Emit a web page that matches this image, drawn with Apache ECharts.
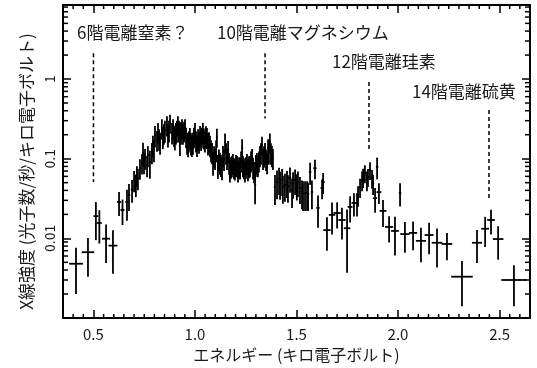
<!DOCTYPE html>
<html>
<head>
<meta charset="utf-8">
<script src="https://cdn.jsdelivr.net/npm/echarts@6/dist/echarts.min.js"></script>
<style>
  html, body { margin: 0; padding: 0; background: #fff; }
  #chart { width: 537px; height: 368px; }
</style>
</head>
<body>
<div id="chart"></div>
<script>
// X-ray spectrum: channel energy (keV), half bin width (keV), flux and 1-sigma error
const energy = [
  0.414, 0.473, 0.512, 0.529, 0.562, 0.596, 0.626, 0.643, 0.665, 0.675,
  0.690, 0.700, 0.709, 0.714, 0.719, 0.729, 0.739, 0.744, 0.749, 0.754,
  0.764, 0.768, 0.778, 0.788, 0.793, 0.798, 0.803, 0.813, 0.818, 0.823,
  0.828, 0.837, 0.842, 0.847, 0.852, 0.862, 0.867, 0.872, 0.877, 0.887,
  0.892, 0.897, 0.901, 0.906, 0.911, 0.916, 0.921, 0.926, 0.931, 0.936,
  0.941, 0.946, 0.951, 0.956, 0.961, 0.966, 0.970, 0.975, 0.980, 0.985,
  0.990, 0.995, 1.000, 1.005, 1.010, 1.015, 1.020, 1.025, 1.030, 1.034,
  1.039, 1.044, 1.049, 1.054, 1.059, 1.064, 1.069, 1.074, 1.079, 1.084,
  1.089, 1.094, 1.099, 1.104, 1.108, 1.113, 1.118, 1.123, 1.128, 1.133,
  1.138, 1.143, 1.148, 1.153, 1.158, 1.163, 1.168, 1.172, 1.177, 1.182,
  1.187, 1.192, 1.197, 1.202, 1.207, 1.212, 1.217, 1.222, 1.227, 1.232,
  1.236, 1.241, 1.246, 1.251, 1.256, 1.261, 1.266, 1.271, 1.276, 1.281,
  1.286, 1.291, 1.296, 1.300, 1.305, 1.310, 1.315, 1.320, 1.325, 1.330,
  1.335, 1.340, 1.345, 1.350, 1.355, 1.360, 1.364, 1.369, 1.374, 1.379,
  1.384, 1.394, 1.404, 1.414, 1.419, 1.429, 1.433, 1.443, 1.453, 1.458,
  1.468, 1.478, 1.483, 1.493, 1.502, 1.507, 1.517, 1.527, 1.532, 1.542,
  1.552, 1.557, 1.567, 1.576, 1.591, 1.606, 1.626, 1.631, 1.650, 1.675,
  1.700, 1.724, 1.749, 1.764, 1.783, 1.798, 1.803, 1.813, 1.823, 1.828,
  1.837, 1.847, 1.852, 1.862, 1.872, 1.877, 1.887, 1.897, 1.906, 1.926,
  1.956, 1.985, 2.010, 2.034, 2.074, 2.113, 2.153, 2.192, 2.241, 2.315,
  2.389, 2.429, 2.458, 2.493, 2.571
];
const energyHalfWidth = [
  0.034, 0.031, 0.012, 0.012, 0.020, 0.022, 0.010, 0.010, 0.008, 0.006,
  0.006, 0.005, 0.005, 0.005, 0.005, 0.005, 0.005, 0.005, 0.005, 0.005,
  0.005, 0.005, 0.005, 0.005, 0.005, 0.005, 0.005, 0.005, 0.005, 0.005,
  0.005, 0.005, 0.005, 0.005, 0.005, 0.005, 0.005, 0.005, 0.005, 0.005,
  0.005, 0.005, 0.005, 0.005, 0.005, 0.005, 0.005, 0.005, 0.005, 0.005,
  0.005, 0.005, 0.005, 0.005, 0.005, 0.005, 0.005, 0.005, 0.005, 0.005,
  0.005, 0.005, 0.005, 0.005, 0.005, 0.005, 0.005, 0.005, 0.005, 0.005,
  0.005, 0.005, 0.005, 0.005, 0.005, 0.005, 0.005, 0.005, 0.005, 0.005,
  0.005, 0.005, 0.005, 0.005, 0.005, 0.005, 0.005, 0.005, 0.005, 0.005,
  0.005, 0.005, 0.005, 0.005, 0.005, 0.005, 0.005, 0.005, 0.005, 0.005,
  0.005, 0.005, 0.005, 0.005, 0.005, 0.005, 0.005, 0.005, 0.005, 0.005,
  0.005, 0.005, 0.005, 0.005, 0.005, 0.005, 0.005, 0.005, 0.005, 0.005,
  0.005, 0.005, 0.005, 0.005, 0.005, 0.005, 0.005, 0.005, 0.005, 0.005,
  0.005, 0.005, 0.005, 0.005, 0.005, 0.005, 0.005, 0.005, 0.005, 0.005,
  0.005, 0.006, 0.006, 0.006, 0.006, 0.006, 0.006, 0.006, 0.006, 0.006,
  0.006, 0.006, 0.006, 0.006, 0.006, 0.006, 0.006, 0.006, 0.006, 0.006,
  0.006, 0.006, 0.006, 0.006, 0.008, 0.008, 0.008, 0.008, 0.018, 0.016,
  0.018, 0.018, 0.016, 0.012, 0.012, 0.008, 0.006, 0.006, 0.006, 0.006,
  0.006, 0.006, 0.006, 0.006, 0.006, 0.006, 0.010, 0.006, 0.012, 0.017,
  0.020, 0.019, 0.006, 0.023, 0.020, 0.025, 0.022, 0.026, 0.026, 0.053,
  0.025, 0.019, 0.019, 0.026, 0.062
];
const flux = [
  0.0048, 0.0067, 0.019, 0.0156, 0.0099, 0.0081, 0.0286, 0.0227, 0.0286, 0.035,
  0.041, 0.054, 0.048, 0.0625, 0.0573, 0.0764, 0.0883, 0.118, 0.090, 0.102,
  0.0834, 0.111, 0.091, 0.121, 0.149, 0.130, 0.198, 0.172, 0.216, 0.180,
  0.162, 0.243, 0.187, 0.210, 0.229, 0.265, 0.198, 0.230, 0.281, 0.216,
  0.243, 0.200, 0.182, 0.215, 0.229, 0.265, 0.230, 0.198, 0.215, 0.243,
  0.210, 0.225, 0.243, 0.190, 0.162, 0.149, 0.170, 0.187, 0.160, 0.150,
  0.162, 0.190, 0.216, 0.170, 0.150, 0.180, 0.165, 0.198, 0.175, 0.190,
  0.216, 0.185, 0.170, 0.195, 0.187, 0.160, 0.165, 0.149, 0.130, 0.121,
  0.091, 0.110, 0.102, 0.130, 0.187, 0.0834, 0.100, 0.091, 0.085, 0.0787,
  0.111, 0.100, 0.162, 0.120, 0.102, 0.129, 0.090, 0.0722, 0.080, 0.0834,
  0.0883, 0.078, 0.0764, 0.085, 0.0834, 0.0722, 0.080, 0.0787, 0.095, 0.136,
  0.0834, 0.078, 0.0722, 0.080, 0.0883, 0.075, 0.082, 0.0834, 0.095, 0.102,
  0.0787, 0.070, 0.0468, 0.085, 0.091, 0.0834, 0.095, 0.111, 0.120, 0.149,
  0.102, 0.110, 0.121, 0.100, 0.091, 0.136, 0.120, 0.162, 0.120, 0.111,
  0.102, 0.0442, 0.051, 0.056, 0.0496, 0.0541, 0.0442, 0.0468, 0.051, 0.045,
  0.0573, 0.040, 0.0496, 0.054, 0.0468, 0.051, 0.0429, 0.0382, 0.0371, 0.0371,
  0.0371, 0.036, 0.068, 0.0382, 0.076, 0.0241, 0.0429, 0.051, 0.0127, 0.0197,
  0.0208, 0.0170, 0.0134, 0.0248, 0.0278, 0.0278, 0.035, 0.044, 0.054, 0.059,
  0.066, 0.054, 0.059, 0.072, 0.057, 0.049, 0.032, 0.079, 0.038, 0.0221,
  0.0139, 0.0124, 0.0371, 0.0113, 0.0117, 0.0093, 0.0110, 0.0088, 0.0085, 0.0033,
  0.0088, 0.0132, 0.0170, 0.0098, 0.0030
];
const fluxErr = [
  0.0028, 0.0034, 0.0095, 0.007, 0.005, 0.0045, 0.0095, 0.008, 0.012, 0.013,
  0.013, 0.016, 0.015, 0.018, 0.017, 0.022, 0.025, 0.040, 0.026, 0.030,
  0.025, 0.033, 0.035, 0.036, 0.045, 0.040, 0.060, 0.050, 0.065, 0.055,
  0.050, 0.070, 0.055, 0.060, 0.070, 0.075, 0.060, 0.070, 0.075, 0.065,
  0.070, 0.060, 0.055, 0.065, 0.070, 0.075, 0.070, 0.090, 0.065, 0.070,
  0.060, 0.065, 0.070, 0.055, 0.050, 0.045, 0.050, 0.055, 0.050, 0.045,
  0.050, 0.055, 0.065, 0.050, 0.045, 0.055, 0.050, 0.060, 0.050, 0.055,
  0.065, 0.055, 0.050, 0.060, 0.055, 0.050, 0.050, 0.045, 0.040, 0.036,
  0.030, 0.033, 0.030, 0.040, 0.050, 0.028, 0.030, 0.028, 0.026, 0.025,
  0.033, 0.030, 0.045, 0.036, 0.030, 0.038, 0.027, 0.022, 0.024, 0.025,
  0.026, 0.023, 0.023, 0.026, 0.025, 0.022, 0.024, 0.024, 0.028, 0.040,
  0.025, 0.023, 0.022, 0.024, 0.026, 0.023, 0.025, 0.025, 0.028, 0.030,
  0.024, 0.021, 0.020, 0.026, 0.027, 0.025, 0.028, 0.033, 0.036, 0.040,
  0.030, 0.033, 0.036, 0.030, 0.027, 0.040, 0.036, 0.045, 0.036, 0.033,
  0.030, 0.018, 0.020, 0.021, 0.019, 0.020, 0.017, 0.018, 0.019, 0.017,
  0.020, 0.016, 0.018, 0.019, 0.017, 0.018, 0.016, 0.015, 0.015, 0.015,
  0.015, 0.014, 0.021, 0.015, 0.021, 0.0105, 0.012, 0.015, 0.0057, 0.0085,
  0.0075, 0.0073, 0.0097, 0.009, 0.009, 0.009, 0.010, 0.012, 0.015, 0.016,
  0.017, 0.015, 0.015, 0.018, 0.015, 0.014, 0.011, 0.024, 0.011, 0.0082,
  0.005, 0.0063, 0.012, 0.0047, 0.0046, 0.0043, 0.0047, 0.0045, 0.0032, 0.0019,
  0.0039, 0.0054, 0.0058, 0.0044, 0.0016
];

// Emission line markers
const lineLabels = ['6階電離窒素？', '10階電離マグネシウム', '12階電離珪素', '14階電離硫黄'];
const lineEnergy = [0.500, 1.345, 1.857, 2.448];
const lineTop = [2.1, 2.1, 0.92, 0.41];
const lineBottom = [0.051, 0.32, 0.126, 0.032];

// Axis ticks
const xTickLabels = ['0.5', '1.0', '1.5', '2.0', '2.5'];
const yTickLabels = ['0.01', '0.1', '1'];
const xMinorTicks = [
  0.40, 0.45, 0.55, 0.60, 0.65, 0.70, 0.75, 0.80, 0.85, 0.90, 0.95,
  1.05, 1.10, 1.15, 1.20, 1.25, 1.30, 1.35, 1.40, 1.45,
  1.55, 1.60, 1.65, 1.70, 1.75, 1.80, 1.85, 1.90, 1.95,
  2.05, 2.10, 2.15, 2.20, 2.25, 2.30, 2.35, 2.40, 2.45, 2.55, 2.60
];
const yMinorTicks = [
  0.002, 0.003, 0.004, 0.005, 0.006, 0.007, 0.008, 0.009,
  0.02, 0.03, 0.04, 0.05, 0.06, 0.07, 0.08, 0.09,
  0.2, 0.3, 0.4, 0.5, 0.6, 0.7, 0.8, 0.9,
  2, 3, 4, 5, 6, 7, 8
];

const X_MIN = 0.35, X_MAX = 2.65, Y_MIN = 0.001, Y_MAX = 8.5;
const FONT = '"Noto Sans CJK JP", "Noto Sans", sans-serif';
const INK = '#1a1a1a';

const chart = echarts.init(document.getElementById('chart'), null, { renderer: 'canvas' });

function matchLabel(list, v) {
  for (const s of list) {
    const n = Number(s);
    if (Math.abs(n - v) <= Math.abs(n) * 1e-6) return s;
  }
  return '';
}

const axisFrame = { show: true, lineStyle: { color: '#000', width: 2 } };
const majorTick = { show: true, inside: true, length: 8, lineStyle: { color: '#000', width: 1.5 } };

function renderCross(params, api) {
  const e = api.value(0), hw = api.value(1), f = api.value(2), s = api.value(3);
  const c = api.coord([e, f]);
  const l = api.coord([e - hw, f]);
  const r = api.coord([e + hw, f]);
  const t = api.coord([e, f + s]);
  const b = api.coord([e, f - s]);
  const style = { stroke: '#000', lineWidth: 1.8 };
  return {
    type: 'group',
    children: [
      { type: 'line', shape: { x1: l[0], y1: c[1], x2: r[0], y2: c[1] }, style },
      { type: 'line', shape: { x1: c[0], y1: t[1], x2: c[0], y2: b[1] }, style }
    ]
  };
}

function renderLineMarker(params, api) {
  const e = api.value(0);
  const top = api.coord([e, api.value(1)]);
  const bot = api.coord([e, api.value(2)]);
  return {
    type: 'line',
    shape: { x1: top[0], y1: top[1], x2: bot[0], y2: bot[1] },
    style: { stroke: '#000', lineWidth: 1.5, lineDash: [4, 3] }
  };
}

function renderXMinor(params, api) {
  const cs = params.coordSys;
  const x = api.coord([api.value(0), Y_MIN])[0];
  const style = { stroke: '#000', lineWidth: 1.5 };
  return {
    type: 'group',
    children: [
      { type: 'line', shape: { x1: x, y1: cs.y + cs.height, x2: x, y2: cs.y + cs.height - 4 }, style },
      { type: 'line', shape: { x1: x, y1: cs.y, x2: x, y2: cs.y + 4 }, style }
    ]
  };
}

function renderYMinor(params, api) {
  const cs = params.coordSys;
  const y = api.coord([X_MIN, api.value(1)])[1];
  const style = { stroke: '#000', lineWidth: 1.5 };
  return {
    type: 'group',
    children: [
      { type: 'line', shape: { x1: cs.x, y1: y, x2: cs.x + 5, y2: y }, style },
      { type: 'line', shape: { x1: cs.x + cs.width, y1: y, x2: cs.x + cs.width - 5, y2: y }, style }
    ]
  };
}

const annotationPos = [[77, 33], [217, 33], [332, 62], [412, 92]];

const option = {
  animation: false,
  backgroundColor: '#fff',
  textStyle: { fontFamily: FONT },
  grid: { left: 63, right: 7, top: 5, bottom: 50 },
  xAxis: [
    {
      type: 'value', min: X_MIN, max: X_MAX, position: 'bottom',
      name: 'エネルギー (キロ電子ボルト)', nameLocation: 'middle', nameGap: 26,
      nameTextStyle: { fontSize: 16, color: INK, fontFamily: FONT },
      axisLine: axisFrame, axisTick: majorTick, splitLine: { show: false },
      axisLabel: {
        fontSize: 15, color: INK, fontFamily: FONT, margin: 9,
        showMinLabel: false, showMaxLabel: false,
        formatter: v => matchLabel(xTickLabels, v)
      }
    },
    {
      type: 'value', min: X_MIN, max: X_MAX, position: 'top',
      axisLine: axisFrame, axisTick: majorTick, splitLine: { show: false },
      axisLabel: { show: false }
    }
  ],
  yAxis: [
    {
      type: 'log', logBase: 10, min: Y_MIN, max: Y_MAX, position: 'left',
      name: 'X線強度 (光子数/秒/キロ電子ボルト)', nameLocation: 'middle', nameGap: 25,
      nameRotate: 90,
      nameTextStyle: { fontSize: 17, color: INK, fontFamily: FONT, padding: [0, 20, 0, 0] },
      axisLine: axisFrame, axisTick: majorTick, splitLine: { show: false },
      axisLabel: {
        fontSize: 14, color: INK, fontFamily: FONT, rotate: 90, margin: 6,
        formatter: v => matchLabel(yTickLabels, v)
      }
    },
    {
      type: 'log', logBase: 10, min: Y_MIN, max: Y_MAX, position: 'right',
      axisLine: axisFrame, axisTick: majorTick, splitLine: { show: false },
      axisLabel: { show: false }
    }
  ],
  series: [
    {
      type: 'custom', name: 'spectrum', renderItem: renderCross,
      xAxisIndex: 0, yAxisIndex: 0, clip: true,
      encode: { x: 0, y: 2 },
      data: energy.map((e, i) => [e, energyHalfWidth[i], flux[i], fluxErr[i]])
    },
    {
      type: 'custom', name: 'lines', renderItem: renderLineMarker,
      xAxisIndex: 0, yAxisIndex: 0,
      encode: { x: 0, y: 1 },
      data: lineEnergy.map((e, i) => [e, lineTop[i], lineBottom[i]])
    },
    {
      type: 'custom', name: 'xMinor', renderItem: renderXMinor, silent: true,
      xAxisIndex: 0, yAxisIndex: 0, encode: { x: 0, y: 1 },
      data: xMinorTicks.map(v => [v, Y_MIN])
    },
    {
      type: 'custom', name: 'yMinor', renderItem: renderYMinor, silent: true,
      xAxisIndex: 0, yAxisIndex: 0, encode: { x: 0, y: 1 },
      data: yMinorTicks.map(v => [X_MIN, v])
    }
  ],
  graphic: lineLabels.map((t, i) => ({
    type: 'text',
    x: annotationPos[i][0], y: annotationPos[i][1],
    style: { text: t, fill: INK, font: '17px ' + FONT, verticalAlign: 'middle', align: 'left' }
  }))
};

chart.setOption(option);
</script>
</body>
</html>
